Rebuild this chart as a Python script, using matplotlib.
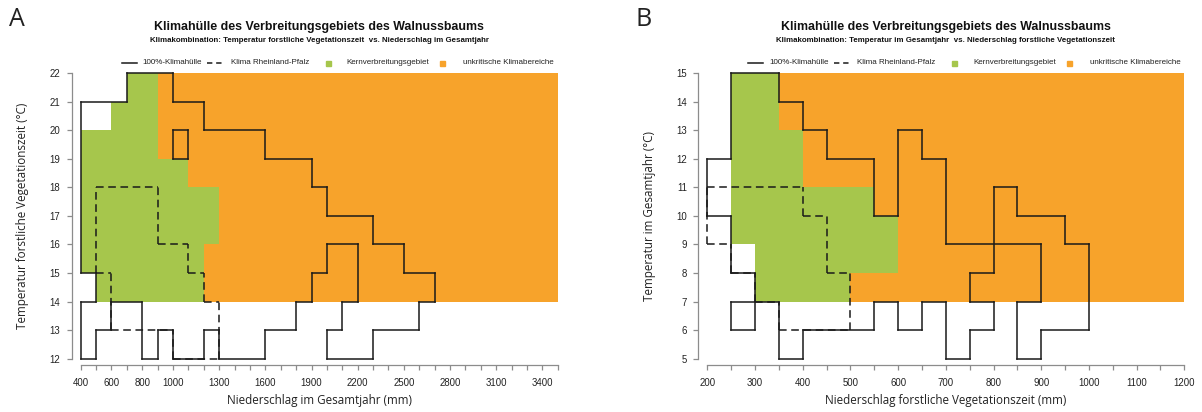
import numpy as np
import matplotlib
matplotlib.use("Agg")
import matplotlib.pyplot as plt
from matplotlib.colors import ListedColormap
from matplotlib.lines import Line2D

plt.rcParams['font.family'] = ['Liberation Sans', 'DejaVu Sans']

W, H = 1202, 412
GREEN = '#A6C64C'
ORANGE = '#F7A32B'

# ---- Panel A: Niederschlag Gesamtjahr (100 mm classes) vs Temperatur forstl. Vegetationszeit (1 °C classes)
# each list: one entry per temperature class, lowest class first; entries are [x_from, x_to) intervals
a_x_edges = np.arange(400, 3501, 100)
a_y_edges = np.arange(12, 23)
a_envelope = [
    [(400, 500), (800, 900), (1000, 1200), (1300, 1600), (2000, 2300)],  # 12-13
    [(400, 600), (800, 1800), (2100, 2600)],                              # 13-14
    [(500, 1900), (2200, 2700)],                                          # 14-15
    [(400, 2000), (2200, 2500)],                                          # 15-16
    [(400, 2300)],                                                        # 16-17
    [(400, 2000)],                                                        # 17-18
    [(400, 1900)],                                                        # 18-19
    [(400, 1000), (1100, 1600)],                                          # 19-20
    [(400, 1200)],                                                        # 20-21
    [(700, 1000)],                                                        # 21-22
]
a_rlp = [
    [(1000, 1300)], [(600, 1300)], [(600, 1200)], [(500, 1100)],
    [(500, 900)], [(500, 900)], [], [], [], [],
]
a_kern = [
    [], [], [(500, 1200)], [(400, 1200)], [(400, 1300)],
    [(400, 1300)], [(400, 1100)], [(400, 900)], [(600, 900)], [(700, 900)],
]
a_unkritisch = [
    [], [], [(1200, 3500)], [(1200, 3500)], [(1300, 3500)],
    [(1300, 3500)], [(1100, 3500)], [(900, 3500)], [(900, 3500)], [(900, 3500)],
]
a_xtick_labels = [400, 600, 800, 1000, 1300, 1600, 1900, 2200, 2500, 2800, 3100, 3400]

# ---- Panel B: Niederschlag forstl. Vegetationszeit (50 mm classes) vs Temperatur Gesamtjahr (1 °C classes)
b_x_edges = np.arange(200, 1201, 50)
b_y_edges = np.arange(5, 16)
b_envelope = [
    [(350, 400), (700, 750), (850, 900)],                          # 5-6
    [(250, 300), (350, 550), (600, 650), (700, 800), (850, 1000)], # 6-7
    [(300, 750), (900, 1000)],                                     # 7-8
    [(250, 800), (900, 1000)],                                     # 8-9
    [(250, 700), (800, 950)],                                      # 9-10
    [(200, 550), (600, 700), (800, 850)],                          # 10-11
    [(200, 550), (600, 700)],                                      # 11-12
    [(250, 450), (600, 650)],                                      # 12-13
    [(250, 400)],                                                  # 13-14
    [(250, 350)],                                                  # 14-15
]
b_rlp = [
    [], [(350, 500)], [(300, 500)], [(250, 450)], [(200, 450)],
    [(200, 400)], [], [], [], [],
]
b_kern = [
    [], [], [(300, 500)], [(300, 600)], [(250, 600)],
    [(250, 550)], [(250, 400)], [(250, 400)], [(250, 350)], [(250, 350)],
]
b_unkritisch = [
    [], [], [(500, 1200)], [(600, 1200)], [(600, 1200)],
    [(550, 1200)], [(400, 1200)], [(400, 1200)], [(350, 1200)], [(350, 1200)],
]
b_xtick_labels = list(range(200, 1201, 100))


def to_grid(rows, x_edges):
    grid = np.zeros((len(rows), len(x_edges) - 1), dtype=bool)
    for r, intervals in enumerate(rows):
        for x0, x1 in intervals:
            grid[r] |= (x_edges[:-1] >= x0) & (x_edges[:-1] < x1)
    return grid


def runs(flags):
    out, start = [], None
    for i, f in enumerate(list(flags) + [False]):
        if f and start is None:
            start = i
        elif not f and start is not None:
            out.append((start, i))
            start = None
    return out


def outline(rows, x_edges, y_edges):
    g = np.pad(to_grid(rows, x_edges), 1)
    segs = []
    for j in range(len(y_edges)):
        for c0, c1 in runs(g[j, 1:-1] != g[j + 1, 1:-1]):
            segs.append(([x_edges[c0], x_edges[c1]], [y_edges[j], y_edges[j]]))
    for i in range(len(x_edges)):
        for r0, r1 in runs(g[1:-1, i] != g[1:-1, i + 1]):
            segs.append(([x_edges[i], x_edges[i]], [y_edges[r0], y_edges[r1]]))
    return segs


def fig_xy(x, y):
    return x / W, 1 - y / H


fig = plt.figure(figsize=(W / 100, H / 100), dpi=100)
fig.patch.set_facecolor('white')

panels = [
    dict(letter='A', left=80.7, x_edges=a_x_edges, y_edges=a_y_edges, env=a_envelope, rlp=a_rlp,
         kern=a_kern, unkr=a_unkritisch, xlabels=a_xtick_labels, xstep=100,
         sub='Klimakombination: Temperatur forstliche Vegetationszeit  vs. Niederschlag im Gesamtjahr',
         xlabel='Niederschlag im Gesamtjahr (mm)',
         ylabel='Temperatur forstliche Vegetationszeit (°C)'),
    dict(letter='B', left=707.3, x_edges=b_x_edges, y_edges=b_y_edges, env=b_envelope, rlp=b_rlp,
         kern=b_kern, unkr=b_unkritisch, xlabels=b_xtick_labels, xstep=50,
         sub='Klimakombination: Temperatur im Gesamtjahr  vs. Niederschlag forstliche Vegetationszeit',
         xlabel='Niederschlag forstliche Vegetationszeit (mm)',
         ylabel='Temperatur im Gesamtjahr (°C)'),
]

ax_w, top, bottom = 477.0, 73.0, 358.7
for p in panels:
    ax = fig.add_axes([p['left'] / W, 1 - bottom / H, ax_w / W, (bottom - top) / H])
    xe, ye = p['x_edges'], p['y_edges']

    cat = np.where(to_grid(p['kern'], xe), 1, 0) + np.where(to_grid(p['unkr'], xe), 2, 0)
    cat = np.ma.masked_equal(cat, 0)
    ax.pcolormesh(xe, ye, cat, cmap=ListedColormap([GREEN, ORANGE]), vmin=0.5, vmax=2.5,
                  shading='flat', antialiased=False, zorder=1)

    for xs, ys in outline(p['rlp'], xe, ye):
        ax.plot(xs, ys, color='#1a1a1a', lw=1.1, ls=(0, (5, 3)), clip_on=False, zorder=3)
    for xs, ys in outline(p['env'], xe, ye):
        ax.plot(xs, ys, color='#1a1a1a', lw=1.1, solid_capstyle='projecting',
                clip_on=False, zorder=4)

    ax.set_xlim(xe[0], xe[-1])
    ax.set_ylim(ye[0], ye[-1])
    xt = np.arange(xe[0], xe[-1] + 1, p['xstep'])
    ax.set_xticks(xt)
    ax.set_xticklabels([str(v) if v in p['xlabels'] else '' for v in xt])
    ax.set_yticks(ye)
    for s in ['top', 'right']:
        ax.spines[s].set_visible(False)
    ax.spines['left'].set_position(('outward', 6.5))
    ax.spines['bottom'].set_position(('outward', 4.7))
    ax.spines['left'].set_bounds(ye[0], ye[-1])
    ax.spines['bottom'].set_bounds(xe[0], xe[-1])
    for s in ['left', 'bottom']:
        ax.spines[s].set_color('#8c8c8c')
        ax.spines[s].set_linewidth(0.9)
    ax.tick_params(length=3.5, width=0.9, color='#8c8c8c', labelsize=6.9, labelcolor='#222222')
    ax.tick_params(axis='x', pad=5.5)
    ax.tick_params(axis='y', pad=4.6)

    ax.set_xlabel(p['xlabel'], fontsize=8.4, family=['Open Sans', 'DejaVu Sans'], color='#222222')
    ax.set_ylabel(p['ylabel'], fontsize=8.4, family=['Open Sans', 'DejaVu Sans'], color='#222222')
    ax.xaxis.set_label_coords(0.5, -0.145)
    ax.yaxis.set_label_coords(-0.122, 0.5)
    ax.xaxis.label.set_va('center')
    ax.yaxis.label.set_va('center')

    cx = p['left'] + ax_w / 2
    fig.text(*fig_xy(cx, 27), 'Klimahülle des Verbreitungsgebiets des Walnussbaums',
             ha='center', va='center', fontsize=8.9, fontweight='bold', color='#111111')
    fig.text(*fig_xy(cx, 40.5), p['sub'], ha='center', va='center', fontsize=5.65,
             fontweight='bold', color='#111111')

    L = p['left']
    ly = 62.8
    fig.add_artist(Line2D([fig_xy(L + 41, ly)[0], fig_xy(L + 56, ly)[0]], [fig_xy(0, ly)[1]] * 2,
                          transform=fig.transFigure, color='#1a1a1a', lw=1.1))
    fig.add_artist(Line2D([fig_xy(L + 126.5, ly)[0], fig_xy(L + 143, ly)[0]], [fig_xy(0, ly)[1]] * 2,
                          transform=fig.transFigure, color='#1a1a1a', lw=1.1, ls=(0, (3.5, 2.5))))
    fig.add_artist(Line2D([fig_xy(L + 247, ly)[0]], [fig_xy(0, ly)[1]], transform=fig.transFigure,
                          marker='s', markersize=3.6, color=GREEN, lw=0))
    fig.add_artist(Line2D([fig_xy(L + 361.5, ly)[0]], [fig_xy(0, ly)[1]], transform=fig.transFigure,
                          marker='s', markersize=3.6, color=ORANGE, lw=0))
    for off, txt in [(62, '100%-Klimahülle'), (150, 'Klima Rheinland-Pfalz'),
                     (266, 'Kernverbreitungsgebiet'), (382.5, 'unkritische Klimabereiche')]:
        fig.text(*fig_xy(L + off, ly), txt, ha='left', va='center', fontsize=5.75, color='#222222')

    fig.text(*fig_xy(L - 64, 20), p['letter'], ha='center', va='center', fontsize=18,
             family=['Open Sans', 'DejaVu Sans'], color='#222222')

fig.savefig('out.png', dpi=100, facecolor='white')
